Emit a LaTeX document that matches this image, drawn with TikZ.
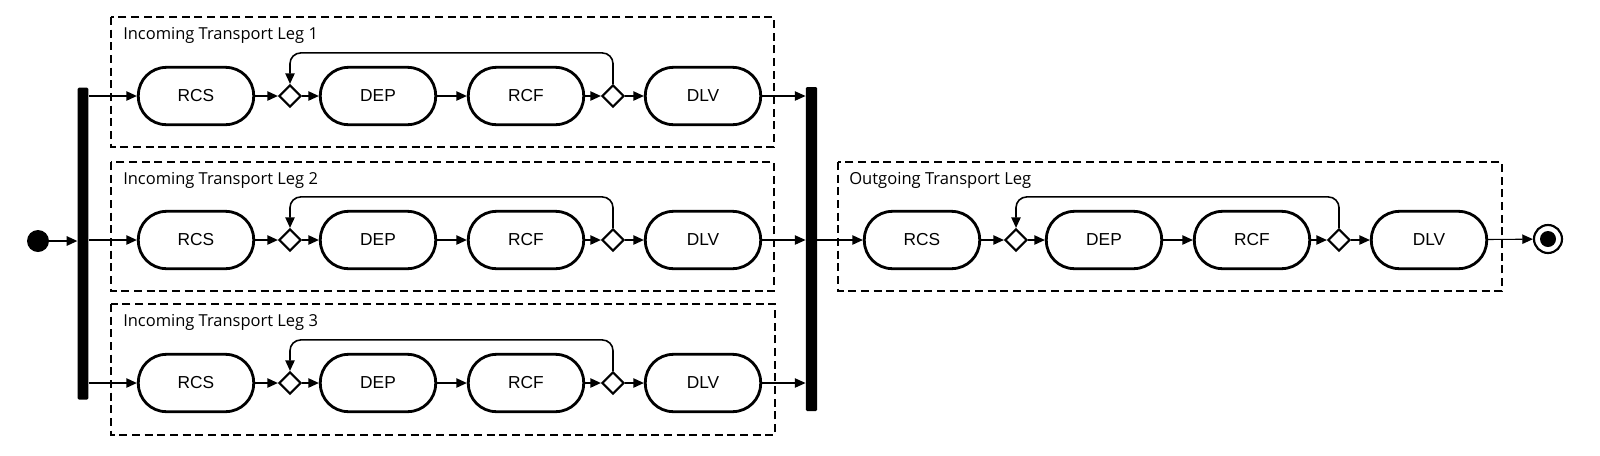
\documentclass[tikz,border=0pt]{standalone}
\usepackage{fontspec}
\setmainfont{Liberation Sans}
\newfontfamily\labelfont{Open Sans}
\usetikzlibrary{arrows.meta,shapes.geometric}
\tikzset{
  act/.style={draw, line width=2.1pt, rectangle, rounded corners=21pt,
    minimum width=86.5pt, minimum height=43pt, inner sep=0pt,
    font=\fontsize{13}{15}\selectfont},
  gate/.style={draw, diamond, line width=1.6pt, minimum size=16.5pt, inner sep=0pt},
  conn/.style={line width=1.2pt, -{Triangle[length=8pt,width=7pt]}},
  thin/.style={line width=0.8pt, -{Triangle[length=8pt,width=7pt]}},
  legbox/.style={draw, line width=1.1pt, dash pattern=on 6pt off 3.5pt},
  leglabel/.style={anchor=west, inner sep=0pt},
  bar/.style={fill=black, draw=none, rounded corners=1pt, minimum width=8pt, inner sep=0pt},
}
\newcommand\legtext[1]{\resizebox{146pt}{!}{\labelfont\fontsize{12}{14}\selectfont #1}}
\newcommand\legtextb[1]{\resizebox{136.5pt}{!}{\labelfont\fontsize{12}{14}\selectfont #1}}
\newcommand\legrow[3]{%
  \node[act] (#1rcs) at (#2,#3) {RCS};
  \node[gate] (#1ga) at (#2+94,#3) {};
  \node[act] (#1dep) at (#2+182,#3) {DEP};
  \node[act] (#1rcf) at (#2+330,#3) {RCF};
  \node[gate] (#1gb) at (#2+417,#3) {};
  \node[act] (#1dlv) at (#2+507,#3) {DLV};
  \draw[conn] (#1rcs) -- (#1ga);
  \draw[conn] (#1ga) -- (#1dep);
  \draw[conn] (#1dep) -- (#1rcf);
  \draw[conn] (#1rcf) -- (#1gb);
  \draw[conn] (#1gb) -- (#1dlv);
  \draw[conn, rounded corners=8pt] (#1gb.north) -- ++(0,-31) -| (#1ga.north);
}
\begin{document}
\begin{tikzpicture}[x=0.75pt,y=-0.75pt]
\useasboundingbox (0,0) rectangle (1600,455);
% dashed leg boxes
\draw[legbox] (111,17) rectangle (774,147);
\draw[legbox] (111,162) rectangle (774,291);
\draw[legbox] (111,304) rectangle (775,435);
\draw[legbox] (838,162) rectangle (1502,291);
\node[leglabel] (l1) at (123,35) {\legtext{Incoming Transport Leg 1}};
\node[leglabel] (l2) at (123,180) {\legtext{Incoming Transport Leg 2}};
\node[leglabel] (l3) at (123,322) {\legtext{Incoming Transport Leg 3}};
\node[leglabel] (l4) at (849,180) {\legtextb{Outgoing Transport Leg}};
% rows
\legrow{a}{196}{96}
\legrow{b}{196}{240}
\legrow{c}{196}{383}
\legrow{o}{922}{240}
% start, fork, merge, end
\node[circle, fill=black, minimum size=16.5pt, inner sep=0pt] (start) at (38,241) {};
\node[bar, minimum height=234pt] (fork) at (83,243.5) {};
\node[bar, minimum height=243pt, minimum width=8.5pt] (merge) at (811.5,249) {};
\node[circle, draw, line width=1.6pt, minimum size=21pt, inner sep=0pt] (end) at (1548,239) {};
\fill (end.center) circle (8);
\draw[conn] (start) -- (fork.west |- start);
\draw[conn] (fork.east |- arcs) -- (arcs);
\draw[conn] (fork.east |- brcs) -- (brcs);
\draw[conn] (fork.east |- crcs) -- (crcs);
\draw[thin] (adlv) -- (merge.west |- adlv);
\draw[thin] (bdlv) -- (merge.west |- bdlv);
\draw[thin] (cdlv) -- (merge.west |- cdlv);
\draw[conn] (merge.east |- orcs) -- (orcs);
\draw[thin] (odlv) -- (end);
\end{tikzpicture}
\end{document}
